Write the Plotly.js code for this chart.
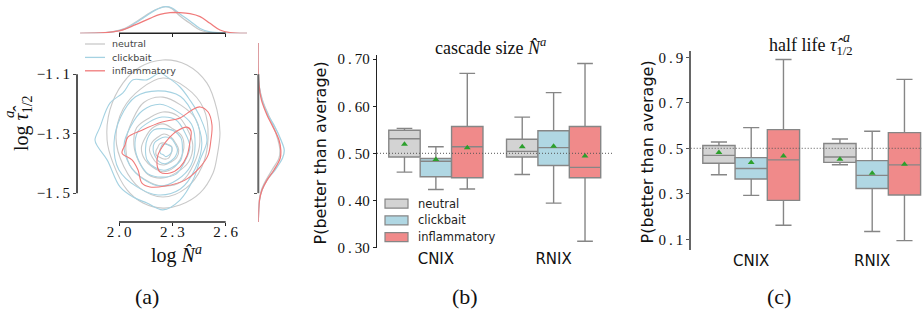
<!DOCTYPE html>
<html><head><meta charset="utf-8">
<script src="https://cdn.plot.ly/plotly-3.0.1.min.js"></script>
<style>html,body{margin:0;padding:0;background:#fff}#chart{width:922px;height:312px}</style>
</head><body><div id="chart"></div>
<script>
// ---------------- DATA ----------------
const categories = ['CNIX', 'RNIX'];
const seriesNames = ['neutral', 'clickbait', 'inflammatory'];
// box stats per category: [lower whisker, q1, median, q3, upper whisker, mean]
const sizeNeutral      = [[0.460,0.492,0.531,0.549,0.553,0.519],[0.455,0.492,0.504,0.530,0.577,0.514]];
const sizeClickbait    = [[0.423,0.450,0.483,0.489,0.514,0.487],[0.394,0.474,0.512,0.548,0.629,0.515]];
const sizeInflammatory = [[0.424,0.448,0.514,0.557,0.670,0.512],[0.313,0.448,0.470,0.557,0.691,0.494]];
const lifeNeutral      = [[0.384,0.434,0.469,0.512,0.528,0.482],[0.428,0.438,0.462,0.521,0.541,0.452]];
const lifeClickbait    = [[0.293,0.365,0.411,0.459,0.591,0.438],[0.134,0.323,0.381,0.446,0.575,0.390]];
const lifeInflammatory = [[0.162,0.271,0.449,0.582,0.890,0.466],[0.094,0.295,0.427,0.569,0.803,0.430]];
const baselineP = 0.5;
const sizeTicks = [0.30, 0.40, 0.50, 0.60, 0.70];
const sizeTickText = ['0\u2009.\u200930','0\u2009.\u200940','0\u2009.\u200950','0\u2009.\u200960','0\u2009.\u200970'];
const lifeTicks = [0.1, 0.3, 0.5, 0.7, 0.9];
const lifeTickText = ['0\u2009.\u20091','0\u2009.\u20093','0\u2009.\u20095','0\u2009.\u20097','0\u2009.\u20099'];

// panel (a)
const logNTicks = [2.0, 2.3, 2.6];
const logNTickText = ['2\u2009.\u20090','2\u2009.\u20093','2\u2009.\u20096'];
const logTauTicks = [-1.5, -1.3, -1.1];
const logTauTickText = ['\u22121\u2009.\u20095','\u22121\u2009.\u20093','\u22121\u2009.\u20091'];

// marginal KDE of log N (top)
const topNeutralX = [1.781,1.893,1.966,2.034,2.090,2.146,2.202,2.263,2.298,2.343,2.399,2.456,2.512,2.596,2.720];
const topNeutralD = [0,0.05,0.25,0.75,1.6,2.6,3.5,4.0,3.7,2.6,1.5,0.5,0.12,0.02,0];
const topClickbaitX = [1.781,1.893,1.966,2.034,2.090,2.146,2.202,2.263,2.298,2.343,2.399,2.456,2.512,2.596,2.720];
const topClickbaitD = [0,0.05,0.2,0.65,1.5,2.5,3.45,4.0,3.8,2.9,1.85,0.72,0.2,0.03,0];
const topInflammatoryX = [1.781,1.921,2.006,2.090,2.174,2.231,2.287,2.343,2.399,2.456,2.512,2.568,2.624,2.720];
const topInflammatoryD = [0,0.1,0.4,1.25,2.25,2.85,3.1,3.1,2.95,2.5,1.5,0.5,0.1,0];
// marginal KDE of log tau (right)
const rightY = [-0.995,-1.136,-1.187,-1.237,-1.271,-1.321,-1.355,-1.382,-1.422,-1.456,-1.489,-1.523,-1.597];
const rightNeutralD = [0,0.1,0.63,1.53,2.21,2.96,3.26,3.11,2.06,1.16,0.48,0.15,0];
const rightClickbaitD = [0,0.1,0.56,1.46,2.36,3.41,3.9,3.65,2.51,1.31,0.56,0.18,0];
const rightInflammatoryD = [0,0.1,0.48,1.31,2.06,3.11,3.38,3.3,2.36,1.31,0.56,0.18,0];

// contour rings (log N, log tau)
const neutralContourX = [
 [2.298,2.296,2.274,2.253,2.229,2.218,2.208,2.210,2.232,2.253,2.277,2.290,2.298],
 [2.336,2.318,2.293,2.253,2.215,2.185,2.171,2.187,2.213,2.253,2.291,2.324,2.336],
 [2.365,2.353,2.304,2.247,2.188,2.150,2.126,2.145,2.190,2.247,2.306,2.345,2.365],
 [2.415,2.384,2.330,2.247,2.170,2.099,2.084,2.110,2.163,2.247,2.325,2.391,2.415],
 [2.455,2.433,2.348,2.247,2.139,2.074,2.039,2.060,2.145,2.247,2.354,2.422,2.455],
 [2.501,2.476,2.377,2.247,2.121,2.023,1.983,2.027,2.118,2.247,2.377,2.467,2.501],
 [2.247,2.382,2.495,2.551,2.568,2.551,2.529,2.456,2.343,2.247,2.135,2.045,1.966,1.933,1.949,2.022,2.118,2.247]
];
const neutralContourY = [
 [-1.358,-1.343,-1.336,-1.331,-1.334,-1.346,-1.358,-1.373,-1.380,-1.385,-1.383,-1.371,-1.358],
 [-1.355,-1.331,-1.312,-1.301,-1.313,-1.330,-1.355,-1.379,-1.399,-1.405,-1.396,-1.381,-1.355],
 [-1.348,-1.308,-1.284,-1.267,-1.281,-1.311,-1.348,-1.387,-1.413,-1.428,-1.415,-1.385,-1.348],
 [-1.338,-1.284,-1.240,-1.227,-1.247,-1.280,-1.338,-1.392,-1.437,-1.449,-1.430,-1.395,-1.338],
 [-1.328,-1.252,-1.204,-1.177,-1.195,-1.257,-1.328,-1.405,-1.454,-1.476,-1.460,-1.400,-1.328],
 [-1.314,-1.215,-1.145,-1.113,-1.150,-1.217,-1.314,-1.410,-1.483,-1.513,-1.483,-1.410,-1.314],
 [-1.052,-1.069,-1.130,-1.220,-1.298,-1.378,-1.432,-1.499,-1.540,-1.550,-1.533,-1.489,-1.398,-1.321,-1.220,-1.130,-1.076,-1.052]
];
const clickbaitContourX = [
 [2.298,2.296,2.279,2.264,2.245,2.236,2.230,2.233,2.249,2.264,2.281,2.292,2.298],
 [2.329,2.315,2.294,2.259,2.227,2.198,2.192,2.203,2.225,2.259,2.292,2.317,2.329],
 [2.357,2.348,2.307,2.253,2.197,2.160,2.149,2.158,2.200,2.253,2.305,2.348,2.357],
 [2.399,2.370,2.321,2.242,2.169,2.106,2.090,2.114,2.164,2.242,2.321,2.370,2.399],
 [2.428,2.408,2.327,2.231,2.133,2.067,2.028,2.060,2.135,2.231,2.330,2.405,2.428],
 [2.466,2.427,2.346,2.219,2.093,2.009,1.972,1.999,2.099,2.219,2.345,2.429,2.466],
 [1.865,1.893,1.949,2.022,2.079,2.157,2.231,2.270,2.343,2.399,2.456,2.495,2.456,2.416,2.343,2.247,2.157,2.079,2.006,1.933,1.882,1.865]
];
const clickbaitContourY = [
 [-1.355,-1.344,-1.339,-1.335,-1.336,-1.346,-1.355,-1.366,-1.371,-1.377,-1.372,-1.365,-1.355],
 [-1.355,-1.334,-1.316,-1.311,-1.318,-1.332,-1.355,-1.376,-1.394,-1.401,-1.392,-1.377,-1.355],
 [-1.351,-1.314,-1.290,-1.283,-1.287,-1.316,-1.351,-1.388,-1.413,-1.423,-1.411,-1.388,-1.351],
 [-1.345,-1.296,-1.254,-1.244,-1.261,-1.293,-1.345,-1.394,-1.435,-1.446,-1.436,-1.394,-1.345],
 [-1.338,-1.268,-1.225,-1.201,-1.222,-1.274,-1.338,-1.405,-1.452,-1.476,-1.454,-1.406,-1.338],
 [-1.331,-1.246,-1.175,-1.156,-1.176,-1.245,-1.331,-1.421,-1.478,-1.506,-1.486,-1.417,-1.331],
 [-1.321,-1.278,-1.197,-1.163,-1.119,-1.119,-1.096,-1.109,-1.143,-1.187,-1.244,-1.321,-1.388,-1.456,-1.523,-1.556,-1.533,-1.513,-1.479,-1.388,-1.345,-1.321]
];
const inflammatoryContourX = [
 [2.017,2.034,2.051,2.129,2.242,2.343,2.411,2.456,2.501,2.523,2.517,2.501,2.456,2.371,2.259,2.174,2.129,2.107,2.073,2.017],
 [2.214,2.219,2.247,2.276,2.326,2.382,2.405,2.399,2.382,2.343,2.287,2.231,2.214]
];
const inflammatoryContourY = [
 [-1.365,-1.338,-1.311,-1.288,-1.261,-1.247,-1.220,-1.210,-1.227,-1.271,-1.321,-1.372,-1.412,-1.456,-1.476,-1.479,-1.466,-1.422,-1.388,-1.365],
 [-1.405,-1.372,-1.341,-1.318,-1.291,-1.278,-1.291,-1.328,-1.375,-1.412,-1.432,-1.429,-1.405]
];

// ---------------- STYLE ----------------
const W = 922, H = 312;
const px = v => v / W, py = v => 1 - v / H;
const SERIF = 'Liberation Serif, DejaVu Serif, serif';
const SANS = 'DejaVu Sans, sans-serif';
const lineCol = {neutral: '#c9c9c9', clickbait: '#a5d2e2', inflammatory: '#f07a7a'};
const fillCol = {neutral: '#d3d3d3', clickbait: '#b0d7e3', inflammatory: '#f08a8a'};
const edgeCol = '#868686';
const meanCol = '#2ca02c';

const traces = [];
// contours
function addContours(xs, ys, col) {
  xs.forEach((xr, i) => traces.push({type: 'scatter', mode: 'lines', x: xr, y: ys[i], xaxis: 'x', yaxis: 'y',
    line: {color: col, width: 1.1, shape: 'spline', smoothing: 1.0}, hoverinfo: 'skip', showlegend: false}));
}
addContours(neutralContourX, neutralContourY, lineCol.neutral);
addContours(clickbaitContourX, clickbaitContourY, lineCol.clickbait);
addContours(inflammatoryContourX, inflammatoryContourY, lineCol.inflammatory);

// marginals
[[topNeutralX, topNeutralD, 'neutral'], [topClickbaitX, topClickbaitD, 'clickbait'], [topInflammatoryX, topInflammatoryD, 'inflammatory']].forEach(([x, d, s]) =>
  traces.push({type: 'scatter', mode: 'lines', x: x, y: d, xaxis: 'x2', yaxis: 'y2', line: {color: lineCol[s], width: 1.3, shape: 'spline'}, hoverinfo: 'skip', showlegend: false}));
[[rightNeutralD, 'neutral'], [rightClickbaitD, 'clickbait'], [rightInflammatoryD, 'inflammatory']].forEach(([d, s]) =>
  traces.push({type: 'scatter', mode: 'lines', x: d, y: rightY, xaxis: 'x3', yaxis: 'y3', line: {color: lineCol[s], width: 1.3, shape: 'spline'}, hoverinfo: 'skip', showlegend: false}));

// box plots
const groupWidth = 0.8;
const boxW = groupWidth / seriesNames.length;
function addBoxes(stats, xa, ya) {
  stats.forEach((st, si) => {
    const s = seriesNames[si];
    const xs = categories.map((c, ci) => ci + (si - 1) * boxW);
    traces.push({type: 'box', xaxis: xa, yaxis: ya, x: xs, width: boxW,
      lowerfence: st.map(r => r[0]), q1: st.map(r => r[1]), median: st.map(r => r[2]),
      q3: st.map(r => r[3]), upperfence: st.map(r => r[4]),
      fillcolor: fillCol[s], line: {color: edgeCol, width: 1.4}, whiskerwidth: 0.5,
      boxpoints: false, hoverinfo: 'skip', showlegend: false, name: s});
    traces.push({type: 'scatter', mode: 'markers', xaxis: xa, yaxis: ya, x: xs, y: st.map(r => r[5]),
      marker: {symbol: 'triangle-up', size: 6, color: meanCol}, hoverinfo: 'skip', showlegend: false});
  });
}
addBoxes([sizeNeutral, sizeClickbait, sizeInflammatory], 'x4', 'y4');
addBoxes([lifeNeutral, lifeClickbait, lifeInflammatory], 'x5', 'y5');

const tickSerif = {family: SERIF, size: 15, color: '#111'};
const hidden = {visible: false};
const base = {showgrid: false, zeroline: false, fixedrange: true};

const layout = {
  width: W, height: H, margin: {l: 0, r: 0, t: 0, b: 0},
  paper_bgcolor: '#fff', plot_bgcolor: 'rgba(0,0,0,0)', showlegend: false, boxmode: 'overlay',
  xaxis: Object.assign({}, base, {domain: [px(77), px(247)], range: [1.7638, 2.7199], anchor: 'y',
    tickvals: logNTicks, ticktext: logNTickText, ticks: 'outside', ticklen: 3, tickcolor: '#222', tickfont: tickSerif, showline: false,
    ticklabelstandoff: -7}),
  yaxis: Object.assign({}, base, {domain: [py(222), py(43)], range: [-1.5968, -0.9951], anchor: 'x',
    tickvals: logTauTicks, ticktext: logTauTickText, ticks: 'outside', ticklen: 3, tickcolor: '#444', tickfont: tickSerif, showline: false}),
  xaxis2: Object.assign({}, base, {domain: [px(77), px(247)], range: [1.7638, 2.7199], anchor: 'y2',
    tickvals: logNTicks, showticklabels: false, ticks: 'outside', ticklen: 3, tickcolor: '#222', showline: false}),
  yaxis2: Object.assign({}, base, hidden, {domain: [py(33.3), 1], range: [0, 5.0], anchor: 'x2'}),
  xaxis3: Object.assign({}, base, hidden, {domain: [px(258.3), px(292)], range: [0, 5.07], anchor: 'y3'}),
  yaxis3: Object.assign({}, base, {domain: [py(222), py(43)], range: [-1.5968, -0.9951], anchor: 'x3',
    tickvals: logTauTicks, showticklabels: false, ticks: 'outside', ticklen: 3, tickcolor: '#555', showline: false}),
  xaxis4: Object.assign({}, base, {domain: [px(377), px(612.5)], range: [-0.5, 1.5], anchor: 'y4',
    tickvals: categories.map((c, i) => i), ticktext: categories, ticks: '', tickfont: {family: SANS, size: 15, color: '#111'}, showline: false}),
  yaxis4: Object.assign({}, base, {domain: [py(248.3), py(55)], range: [0.298, 0.709], anchor: 'x4',
    tickvals: sizeTicks, ticktext: sizeTickText, ticks: 'outside', ticklen: 3, tickcolor: '#222', tickfont: tickSerif,
    showline: true, linecolor: '#222', linewidth: 1.3}),
  xaxis5: Object.assign({}, base, {domain: [px(690.7), 1], range: [-0.5, 1.4116], anchor: 'y5',
    tickvals: categories.map((c, i) => i), ticktext: categories, ticks: '', tickfont: {family: SANS, size: 15, color: '#111'}, showline: false}),
  yaxis5: Object.assign({}, base, {domain: [py(250), py(50.7)], range: [0.053, 0.929], anchor: 'x5',
    tickvals: lifeTicks, ticktext: lifeTickText, ticks: 'outside', ticklen: 3, tickcolor: '#555', tickfont: tickSerif,
    showline: true, linecolor: '#666', linewidth: 1.5}),
  shapes: [
    {type: 'line', xref: 'x', yref: 'y domain', x0: logNTicks[0], x1: logNTicks[2], y0: 0, y1: 0, line: {color: '#222', width: 1.5}},
    {type: 'line', xref: 'x domain', yref: 'y', x0: 0, x1: 0, y0: logTauTicks[0], y1: logTauTicks[2], line: {color: '#555', width: 2}},
    {type: 'line', xref: 'x2', yref: 'y2 domain', x0: logNTicks[0], x1: logNTicks[2], y0: 0, y1: 0, line: {color: '#222', width: 1.5}},
    {type: 'line', xref: 'x3 domain', yref: 'y3', x0: 0, x1: 0, y0: logTauTicks[0], y1: logTauTicks[2], line: {color: '#666', width: 2}},
    {type: 'line', xref: 'x4 domain', yref: 'y4', x0: 0, x1: 1, y0: baselineP, y1: baselineP, line: {color: '#555', width: 1, dash: '1px,2px'}, layer: 'above'},
    {type: 'line', xref: 'x5 domain', yref: 'y5', x0: 0, x1: 1, y0: baselineP, y1: baselineP, line: {color: '#555', width: 1, dash: '1px,2px'}, layer: 'above'}
  ],
  annotations: []
};

// legend (a): lines
seriesNames.forEach((s, i) => {
  const yy = 44 + i * 13.4;
  layout.shapes.push({type: 'line', xref: 'paper', yref: 'paper', x0: px(85), x1: px(105), y0: py(yy), y1: py(yy), line: {color: lineCol[s], width: 1.3}});
  layout.annotations.push({xref: 'paper', yref: 'paper', x: px(110), y: py(yy), xanchor: 'left', yanchor: 'middle', showarrow: false,
    text: s, font: {family: SANS, size: 9.5, color: '#444'}});
});
// legend (b): patches
seriesNames.forEach((s, i) => {
  const yy = 203.7 + i * 16.7;
  layout.shapes.push({type: 'rect', xref: 'paper', yref: 'paper', x0: px(385), x1: px(408), y0: py(yy - 4.5), y1: py(yy + 4.5),
    fillcolor: fillCol[s], line: {color: edgeCol, width: 1.2}});
  layout.annotations.push({xref: 'paper', yref: 'paper', x: px(416), y: py(yy), xanchor: 'left', yanchor: 'middle', showarrow: false,
    text: s, font: {family: SANS, size: 11.5, color: '#222'}});
});

const ann = (x, y, text, font, extra) => layout.annotations.push(Object.assign({xref: 'paper', yref: 'paper', x: px(x), y: py(y),
  xanchor: 'center', yanchor: 'middle', showarrow: false, text: text, font: font}, extra || {}));
// axis titles panel (a)
ann(176, 254, 'log <i>N\u0302</i><sup><i>a</i></sup>', {family: SERIF, size: 20, color: '#111'});
ann(23, 123, 'log <i>\u03c4\u0302</i><sub>1/2</sub>', {family: SERIF, size: 20, color: '#111'}, {textangle: -90});
ann(9, 114, '<i>a</i>', {family: SERIF, size: 15, color: '#111'}, {textangle: -90});
// panel (b)
ann(490, 46, 'cascade size <i>N\u0302</i><sup><i>a</i></sup>', {family: SERIF, size: 18, color: '#111'});
ann(319.5, 153, 'P(better than average)', {family: SANS, size: 16, color: '#111'}, {textangle: -90});
// panel (c)
ann(811, 46, 'half life <i>\u03c4\u0302</i><sub>1/2</sub>', {family: SERIF, size: 18, color: '#111'});
ann(846, 37, '<i>a</i>', {family: SERIF, size: 14, color: '#111'});
ann(646.5, 152, 'P(better than average)', {family: SANS, size: 16, color: '#111'}, {textangle: -90});
// panel labels
ann(147, 296, '(a)', {family: SERIF, size: 22, color: '#111'});
ann(465, 296, '(b)', {family: SERIF, size: 22, color: '#111'});
ann(779, 296, '(c)', {family: SERIF, size: 22, color: '#111'});

Plotly.newPlot('chart', traces, layout, {staticPlot: true, displayModeBar: false});
</script>
</body></html>
